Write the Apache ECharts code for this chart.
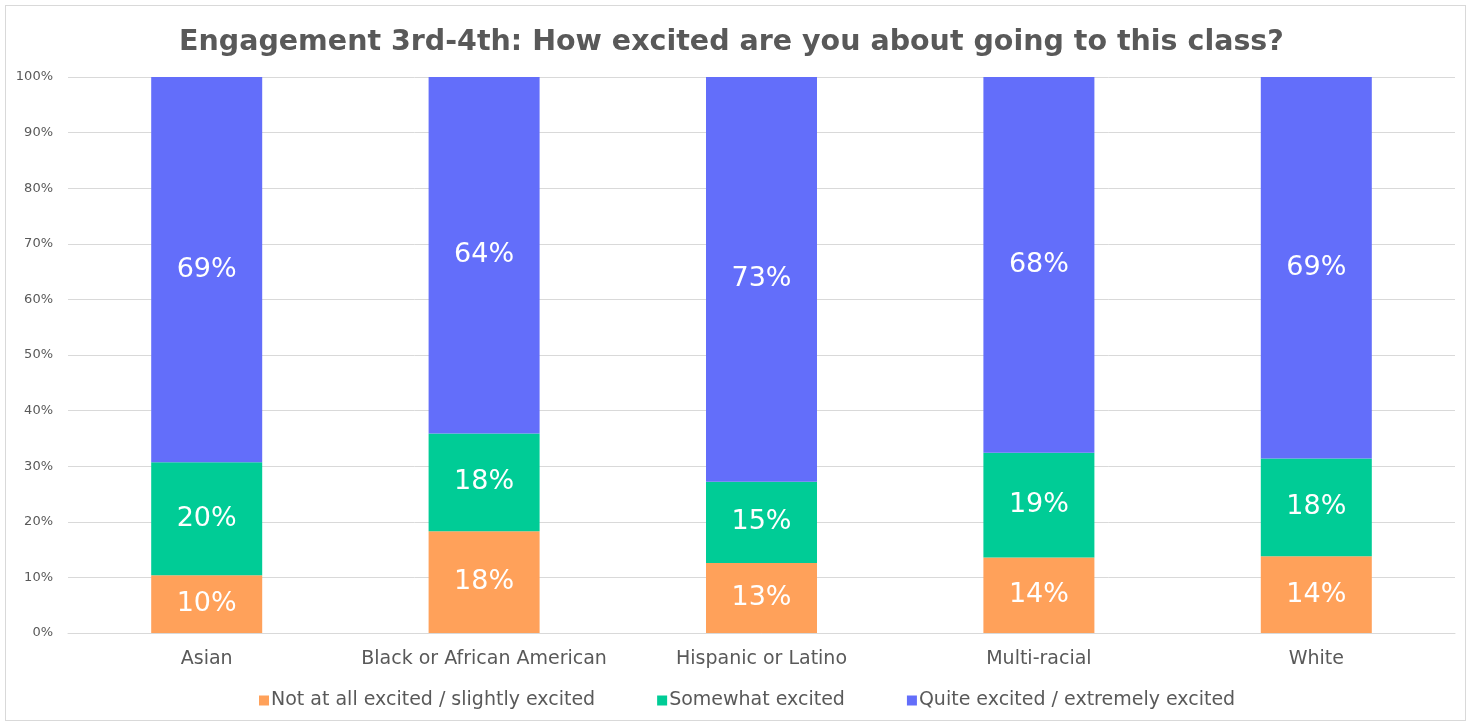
<!DOCTYPE html>
<html>
<head>
<meta charset="utf-8">
<title>Engagement 3rd-4th</title>
<script src="https://cdn.jsdelivr.net/npm/echarts@6/dist/echarts.min.js"></script>
<style>
  html, body { margin: 0; padding: 0; background: #fff; }
  #frame { position: absolute; left: 5px; top: 5px; width: 1461px; height: 716px; border: 1px solid #d9d9d9; box-sizing: border-box; }
  #chart { position: absolute; left: 0; top: 0; width: 1468px; height: 723px; }
</style>
</head>
<body>
<div id="frame"></div>
<div id="chart"></div>
<script>
// Survey groups and the share of students in each response band (percent)
const categories = ['Asian', 'Black or African American', 'Hispanic or Latino', 'Multi-racial', 'White'];
const seriesNames = ['Not at all excited / slightly excited', 'Somewhat excited', 'Quite excited / extremely excited'];
const notExcited = [10.4, 18.3, 12.6, 13.6, 13.8];
const somewhatExcited = [20.3, 17.6, 14.6, 18.8, 17.6];
const quiteExcited = [69.3, 64.1, 72.8, 67.6, 68.6];
const yTicks = [0, 10, 20, 30, 40, 50, 60, 70, 80, 90, 100];

const colors = ['#FFA15A', '#00CC96', '#636EFA'];
const values = [notExcited, somewhatExcited, quiteExcited];
const font = '"DejaVu Sans", Verdana, sans-serif';

const chart = echarts.init(document.getElementById('chart'));
chart.setOption({
  animation: false,
  title: {
    text: 'Engagement 3rd-4th: How excited are you about going to this class?',
    left: 174,
    top: 23,
    textStyle: { fontFamily: font, fontSize: 28.5, fontWeight: 'bold', color: '#595959' }
  },
  legend: {
    bottom: 8,
    left: 254,
    itemWidth: 10,
    itemHeight: 10,
    itemGap: 62,
    icon: 'rect',
    textStyle: { fontFamily: font, fontSize: 19, color: '#595959', padding: [0, 0, 0, -3] },
    data: seriesNames
  },
  grid: { left: 68, right: 13, top: 77, bottom: 90, containLabel: false },
  xAxis: {
    type: 'category',
    data: categories,
    axisLine: { lineStyle: { color: '#d9d9d9' } },
    axisTick: { show: false },
    axisLabel: { interval: 0, fontFamily: font, fontSize: 19, color: '#595959', margin: 17 }
  },
  yAxis: {
    type: 'value',
    min: yTicks[0],
    max: yTicks[yTicks.length - 1],
    interval: yTicks[1] - yTicks[0],
    axisLine: { show: false },
    axisTick: { show: false },
    splitLine: { lineStyle: { color: '#d9d9d9' } },
    axisLabel: { fontFamily: font, fontSize: 13, color: '#595959', formatter: '{value}%', margin: 15 }
  },
  series: seriesNames.map((name, i) => ({
    name: name,
    type: 'bar',
    stack: 'total',
    barWidth: 111,
    data: values[i],
    itemStyle: { color: colors[i] },
    label: {
      show: true,
      position: 'inside',
      fontFamily: font,
      fontSize: 27,
      color: '#ffffff',
      formatter: p => Math.round(p.value) + '%'
    }
  }))
});
</script>
</body>
</html>
